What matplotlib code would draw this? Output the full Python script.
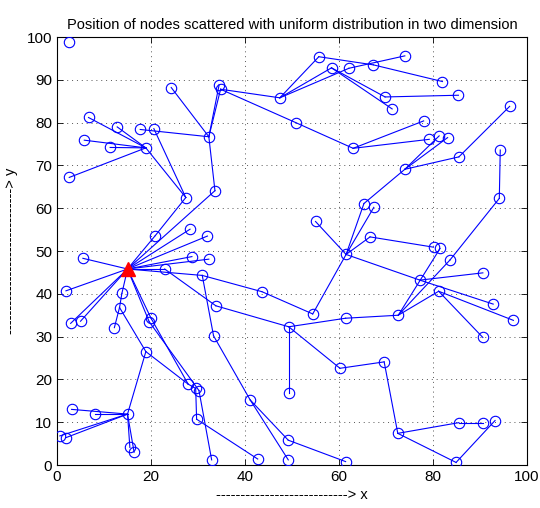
import matplotlib
matplotlib.use("Agg")
import matplotlib.pyplot as plt

node_x = [2.5, 24.3, 34.5, 34.8, 6.7, 12.8, 17.7, 20.6, 5.8, 11.3,
          18.9, 32.3, 2.6, 27.4, 33.6, 20.9, 28.3, 32.0, 5.5, 28.7,
          32.3, 15.0, 22.9, 30.9, 1.9, 13.8, 13.3, 12.2, 2.9, 5.0,
          20.0, 19.6, 33.8, 43.6, 33.3, 18.9, 27.9, 29.5, 30.2, 29.7,
          3.1, 8.1, 15.0, 0.6, 1.9, 15.5, 16.4, 32.9, 42.7, 41.1,
          49.2, 49.2, 61.4, 49.3, 49.3, 60.2, 61.4, 54.4, 72.6, 69.6,
          72.5, 85.5, 90.7, 84.9, 93.2, 90.6, 97.1, 92.8, 81.2, 77.2,
          83.6, 80.1, 81.5, 90.6, 61.5, 55.0, 65.3, 67.4, 66.6, 94.1,
          94.3, 96.3, 85.5, 74.0, 79.2, 81.3, 83.1, 78.0, 63.0, 50.8,
          47.4, 55.7, 58.4, 62.1, 67.3, 74.0, 69.8, 71.3, 82.0, 85.4]
node_y = [98.8, 88.2, 88.9, 87.8, 81.2, 79.0, 78.4, 78.6, 75.9, 74.2,
          74.1, 76.7, 67.2, 62.5, 64.1, 53.6, 55.1, 53.5, 48.3, 48.7,
          48.1, 45.8, 45.8, 44.3, 40.7, 40.1, 36.8, 32.1, 33.1, 33.6,
          34.3, 33.5, 37.2, 40.5, 30.2, 26.5, 18.9, 17.9, 17.4, 10.7,
          13.0, 11.9, 11.9, 6.8, 6.4, 4.1, 3.0, 1.2, 1.4, 15.2,
          5.8, 1.2, 0.8, 32.3, 16.8, 22.6, 34.3, 35.3, 35.0, 24.1,
          7.4, 9.9, 9.9, 0.6, 10.4, 29.8, 33.8, 37.6, 40.6, 43.2,
          47.9, 50.9, 50.6, 44.9, 49.2, 56.9, 61.1, 60.2, 53.3, 62.3,
          73.6, 83.8, 72.0, 69.1, 76.1, 76.9, 76.5, 80.4, 74.0, 80.0,
          85.8, 95.4, 92.8, 92.7, 93.5, 95.6, 86.0, 83.2, 89.6, 86.4]

source_node = 21

edge_from = [1, 2, 3, 6, 11,
             4, 5, 8, 9, 12, 10,
             7, 13, 15, 14,
             21, 21, 21, 21, 21, 21, 21, 21, 21, 21, 21, 21, 21,
             25, 26, 26, 22, 32, 23, 23, 33, 57,
             34, 49, 49, 50,
             35, 35, 30, 31, 36, 37, 38, 39,
             42, 42, 42, 42, 42, 42,
             53, 53, 53, 55, 59, 60, 61, 60, 63,
             56, 58, 58, 58, 70, 79, 68, 68, 78,
             74, 74, 74, 74, 74, 69, 69,
             76, 83, 83, 83, 82,
             3, 90, 90, 90, 91, 94, 93, 92, 92, 96,
             3, 89, 88, 88]
edge_to = [11, 11, 11, 11, 14,
           10, 10, 10, 10, 10, 13,
           13, 15, 21, 21,
           18, 24, 16, 17, 19, 20, 22, 23, 25, 30, 31, 28, 29,
           26, 27, 35, 32, 53, 33, 34, 57, 74,
           49, 50, 51, 52,
           36, 42, 36, 38, 37, 39, 47, 48,
           40, 41, 43, 44, 45, 46,
           54, 55, 56, 59, 60, 61, 62, 63, 64,
           58, 72, 70, 68, 79, 80, 66, 65, 71,
           75, 76, 77, 78, 69, 67, 73,
           83, 85, 86, 82, 81,
           90, 91, 92, 93, 94, 98, 95, 96, 97, 99,
           89, 88, 87, 84]

x_ticks = [0, 20, 40, 60, 80, 100]
y_ticks = [0, 10, 20, 30, 40, 50, 60, 70, 80, 90, 100]

plt.rcParams['font.family'] = ['Liberation Sans', 'DejaVu Sans']

fig = plt.figure(figsize=(5.4, 5.08), dpi=100)
ax = fig.add_axes([0.1056, 0.0846, 0.8704, 0.8425])

for a, b in zip(edge_from, edge_to):
    ax.plot([node_x[a], node_x[b]], [node_y[a], node_y[b]],
            color='#0000ff', lw=0.8, zorder=2)

others = [i for i in range(len(node_x)) if i != source_node]
ax.plot([node_x[i] for i in others], [node_y[i] for i in others], 'o',
        ms=7.5, mfc='none', mec='#0000ff', mew=0.8, zorder=3)
ax.plot([node_x[source_node]], [node_y[source_node]], '^',
        ms=10, color='#ff0000', zorder=4)

ax.set_xlim(0, 100)
ax.set_ylim(0, 100)
ax.set_xticks(x_ticks)
ax.set_yticks(y_ticks)
ax.tick_params(direction='in', top=True, right=True, labelsize=11,
               length=4, width=0.6)
ax.grid(True, color='#555555', linestyle=(0, (1, 4)), linewidth=0.7)
for s in ax.spines.values():
    s.set_linewidth(0.8)

ax.set_title('Position of nodes scattered with uniform distribution in two dimension',
             fontsize=10.5, pad=6)
ax.set_xlabel('---------------------------> x', fontsize=10.5, labelpad=3)
ax.set_ylabel('------------------------------> y', fontsize=10.5, labelpad=6)

fig.savefig('out.png', dpi=100)
